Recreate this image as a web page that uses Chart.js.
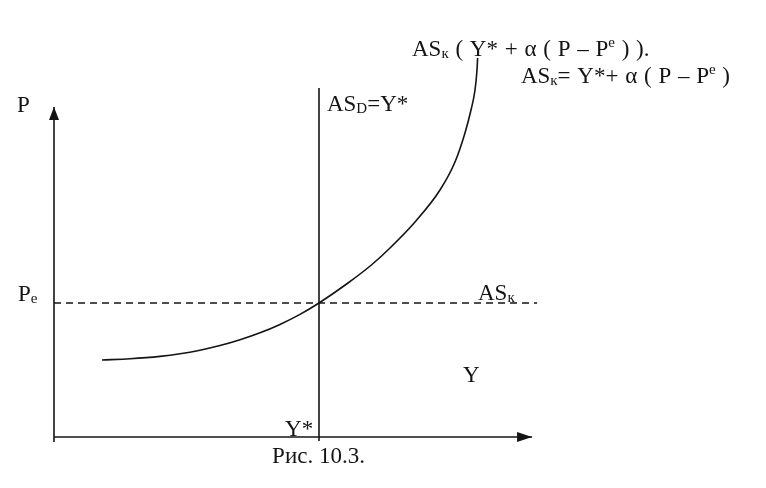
<!DOCTYPE html>
<html>
<head>
<meta charset="utf-8">
<script src="https://cdn.jsdelivr.net/npm/chart.js@4/dist/chart.umd.min.js"></script>
<style>
html,body{margin:0;padding:0;background:#fff;}
#wrap{width:766px;height:488px;}
</style>
</head>
<body>
<div id="wrap"><canvas id="c" width="766" height="488"></canvas></div>
<script>
// ---- data (economic units: Y output, P price level) ----
const yStar = 100;          // potential output Y*
const pExpected = 100;      // expected price level Pe
// short-run aggregate supply curve AS_k (Y values, P values)
const curveY = [18.11, 28.68, 40.00, 47.55, 55.09, 62.64, 70.19, 77.74, 85.28, 92.83, 100, 110.94, 120.00, 126.79, 136.23, 145.66, 151.32, 155.09, 157.36, 158.87, 159.62, 159.85];
const curveP = [57.46, 58.36, 60.15, 62.09, 64.78, 68.21, 72.54, 77.76, 84.03, 91.49, 100, 114.93, 128.73, 141.04, 160.45, 184.33, 205.22, 226.87, 244.03, 258.96, 273.88, 282.84];
// axis extents
const xAxisRange = [0, 180.4];
const yAxisRange = [-3.7, 246.3];
// long-run AS_D vertical line extent (P)
const asDRange = [-3, 260.4];
// dashed expected-price line extent (Y)
const peRange = [0, 182.3];

// ---- text labels (anchored in data units) ----
const textLabels = [
  {x:-14.0, y:242.5, parts:[['P','n']]},
  {x:-13.6, y:101.5, parts:[['P','n'],['e','sub']]},
  {x:103.0, y:243.3, parts:[['AS','n'],['D','sub'],['=Y*','n']]},
  {x:135.1, y:284.3, parts:[['AS','n'],['к','sub'],[' ( Y* + α ( P – P','n'],['e','sup'],[' ) ).','n']]},
  {x:176.2, y:264.2, parts:[['AS','n'],['к','sub'],['= Y*+ α ( P – P','n'],['e','sup'],[' )','n']]},
  {x:160.0, y:102.2, parts:[['AS','n'],['к','sub']]},
  {x:154.3, y:41.0, parts:[['Y','n']]},
  {x:87.2, y:0.7, parts:[['Y*','n']]},
  {x:82.3, y:-19.4, parts:[['Рис. 10.3.','n']]}
];

const INK = '#141414';
const FAMILY = '"Liberation Serif", "DejaVu Serif", serif';

const curvePoints = curveY.map((v, i) => ({x: v, y: curveP[i]}));

const arrowsAndText = {
  id: 'arrowsAndText',
  beforeDraw(chart) {
    const c = chart.ctx;
    c.save();
    c.fillStyle = '#fff';
    c.fillRect(0, 0, chart.width, chart.height);
    c.restore();
  },
  afterDatasetsDraw(chart) {
    const c = chart.ctx, xs = chart.scales.x, ys = chart.scales.y;
    c.save();
    c.fillStyle = INK;
    // x-axis arrow (pointing right)
    let tx = xs.getPixelForValue(xAxisRange[1]), ty = ys.getPixelForValue(0);
    c.beginPath();
    c.moveTo(tx, ty); c.lineTo(tx - 15, ty - 5); c.lineTo(tx - 15, ty + 5); c.closePath(); c.fill();
    // y-axis arrow (pointing up)
    tx = xs.getPixelForValue(0); ty = ys.getPixelForValue(yAxisRange[1]);
    c.beginPath();
    c.moveTo(tx, ty); c.lineTo(tx - 5, ty + 13); c.lineTo(tx + 5, ty + 13); c.closePath(); c.fill();
    // texts
    c.textBaseline = 'alphabetic';
    c.textAlign = 'left';
    const extraSpace = 1;
    for (const lab of textLabels) {
      let px = xs.getPixelForValue(lab.x), py = ys.getPixelForValue(lab.y);
      for (const [t, m] of lab.parts) {
        let dy = 0;
        if (m === 'n') c.font = '23px ' + FAMILY;
        else if (m === 'sub') { c.font = '15px ' + FAMILY; dy = 2; }
        else { c.font = '15px ' + FAMILY; dy = -9; }
        const pieces = t.split(' ');
        const sp = c.measureText(' ').width + (m === 'n' && lab.parts.length > 3 ? extraSpace : 0);
        pieces.forEach((p, k) => {
          if (k > 0) px += sp;
          if (p) { c.fillText(p, px, py + dy); px += c.measureText(p).width; }
        });
      }
    }
    c.restore();
  }
};

new Chart(document.getElementById('c'), {
  type: 'scatter',
  data: {
    datasets: [
      { // Y axis
        data: [{x:0, y:yAxisRange[0]}, {x:0, y:yAxisRange[1]}],
        showLine: true, borderColor: INK, borderWidth: 1.6, pointRadius: 0
      },
      { // X axis
        data: [{x:0, y:0}, {x:xAxisRange[1], y:0}],
        showLine: true, borderColor: INK, borderWidth: 1.6, pointRadius: 0
      },
      { // AS_D vertical at Y*
        data: [{x:yStar, y:asDRange[0]}, {x:yStar, y:asDRange[1]}],
        showLine: true, borderColor: INK, borderWidth: 1.6, pointRadius: 0
      },
      { // Pe dashed line
        data: [{x:peRange[0], y:pExpected}, {x:peRange[1], y:pExpected}],
        showLine: true, borderColor: INK, borderWidth: 1.5, borderDash: [7, 5], pointRadius: 0
      },
      { // AS_k curve
        data: curvePoints,
        showLine: true, borderColor: INK, borderWidth: 1.6, pointRadius: 0,
        cubicInterpolationMode: 'monotone'
      }
    ]
  },
  options: {
    responsive: false,
    animation: false,
    devicePixelRatio: 1,
    layout: { padding: 0 },
    plugins: { legend: { display: false }, tooltip: { enabled: false } },
    scales: {
      x: { type: 'linear', min: -20.377, max: 268.68, display: false },
      y: { type: 'linear', min: -38.06, max: 326.12, display: false }
    }
  },
  plugins: [arrowsAndText]
});
</script>
</body>
</html>
